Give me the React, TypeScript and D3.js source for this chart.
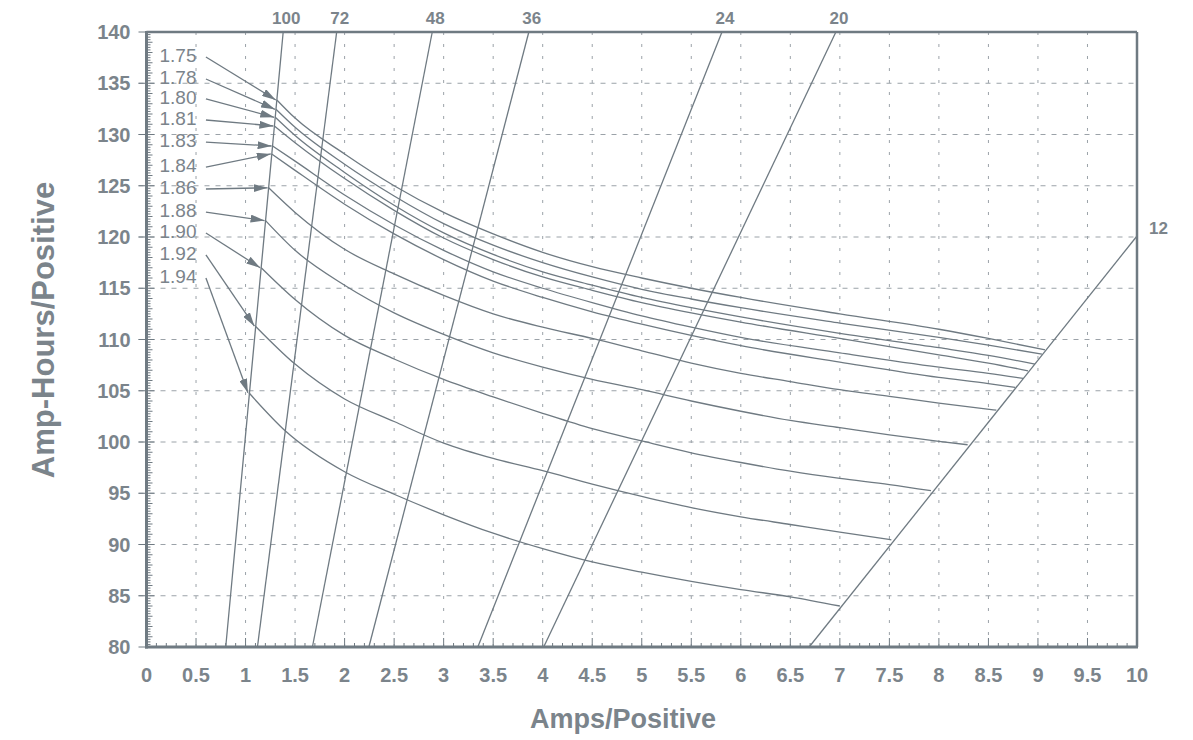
import React from 'react';
import * as d3 from 'd3';

const W = 1193;
const H = 740;

// axis ticks
const xTickValues = [0, 0.5, 1, 1.5, 2, 2.5, 3, 3.5, 4, 4.5, 5, 5.5, 6, 6.5, 7, 7.5, 8, 8.5, 9, 9.5, 10];
const xTickLabels = ['0', '0.5', '1', '1.5', '2', '2.5', '3', '3.5', '4', '4.5', '5', '5.5', '6', '6.5', '7', '7.5', '8', '8.5', '9', '9.5', '10'];
const yTickValues = [80, 85, 90, 95, 100, 105, 110, 115, 120, 125, 130, 135, 140];
const yTickLabels = ['80', '85', '90', '95', '100', '105', '110', '115', '120', '125', '130', '135', '140'];

// hour-rate lines [amps, amp-hours]
const rateNames = ['100', '72', '48', '36', '24', '20', '12'];
const rate100 = [[0.80, 80], [1.38, 140]];
const rate72 = [[1.12, 80], [1.92, 140]];
const rate48 = [[1.675, 80], [2.885, 140]];
const rate36 = [[2.245, 80], [3.86, 140]];
const rate24 = [[3.345, 80], [5.81, 140]];
const rate20 = [[4.01, 80], [6.96, 140]];
const rate12 = [[6.69, 80], [10, 120.1]];
const rateLines = [rate100, rate72, rate48, rate36, rate24, rate20, rate12];

// final-voltage curves [amps, amp-hours]
const voltNames = ['1.75', '1.78', '1.80', '1.81', '1.83', '1.84', '1.86', '1.88', '1.90', '1.92', '1.94'];
const v175 = [[1.316, 133.37], [1.5, 131.6], [2.0, 128.1], [2.5, 125.0], [3.0, 122.4], [3.5, 120.3], [4.0, 118.5], [4.5, 117.1], [5.0, 116.0], [5.5, 115.0], [6.0, 114.1], [7.0, 112.5], [8.0, 111.0], [8.5, 110.1], [9.07, 109.0]];
const v178 = [[1.307, 132.46], [1.5, 130.7], [2.0, 127.1], [2.5, 124.0], [3.0, 121.3], [3.5, 119.2], [4.0, 117.5], [4.5, 116.1], [5.0, 114.9], [5.5, 113.95], [6.0, 113.1], [7.0, 111.6], [8.0, 110.2], [8.5, 109.45], [9.04, 108.58]];
const v180 = [[1.30, 131.68], [1.5, 129.9], [2.0, 126.3], [2.5, 123.1], [3.0, 120.4], [3.5, 118.3], [4.0, 116.6], [4.5, 115.3], [5.0, 114.1], [5.5, 113.1], [6.0, 112.2], [7.0, 110.6], [8.0, 109.2], [8.5, 108.45], [8.97, 107.6]];
const v181 = [[1.291, 130.83], [1.5, 129.2], [2.0, 125.7], [2.5, 122.6], [3.0, 119.9], [3.5, 117.8], [4.0, 116.1], [4.5, 114.8], [5.0, 113.6], [5.5, 112.6], [6.0, 111.7], [7.0, 110.1], [8.0, 108.5], [8.5, 107.7], [8.90, 106.95]];
const v183 = [[1.273, 128.88], [1.5, 127.4], [2.0, 124.1], [2.5, 121.2], [3.0, 118.7], [3.5, 116.6], [4.0, 115.0], [4.5, 113.6], [5.0, 112.3], [5.5, 111.2], [6.0, 110.2], [7.0, 108.7], [8.0, 107.3], [8.5, 106.7], [8.85, 106.2]];
const v184 = [[1.265, 128.1], [1.5, 126.5], [2.0, 123.2], [2.5, 120.3], [3.0, 117.8], [3.5, 115.7], [4.0, 114.1], [4.5, 112.7], [5.0, 111.5], [5.5, 110.4], [6.0, 109.4], [7.0, 107.8], [8.0, 106.3], [8.5, 105.7], [8.77, 105.33]];
const v186 = [[1.233, 124.8], [1.5, 122.4], [2.0, 118.8], [2.5, 116.4], [3.0, 114.3], [3.5, 112.5], [4.0, 111.2], [4.5, 110.1], [5.0, 108.9], [5.5, 107.7], [6.0, 106.7], [6.5, 105.9], [7.0, 105.1], [7.5, 104.45], [8.0, 103.8], [8.58, 103.1]];
const v188 = [[1.202, 121.6], [1.5, 118.7], [2.0, 115.3], [2.5, 112.6], [3.0, 110.5], [3.5, 108.7], [4.0, 107.3], [4.5, 106.1], [5.0, 105.1], [5.5, 104.0], [6.0, 103.0], [6.5, 102.1], [7.0, 101.4], [7.5, 100.7], [8.0, 100.06], [8.29, 99.73]];
const v190 = [[1.158, 117.0], [1.5, 113.9], [2.0, 110.4], [2.5, 108.1], [3.0, 106.1], [3.5, 104.4], [4.0, 102.8], [4.5, 101.3], [5.0, 100.1], [5.5, 98.95], [6.0, 98.0], [6.5, 97.15], [7.0, 96.45], [7.5, 95.85], [7.92, 95.25]];
const v192 = [[1.10, 111.3], [1.5, 107.6], [2.0, 104.2], [2.5, 102.0], [3.0, 99.9], [3.5, 98.4], [4.0, 97.2], [4.5, 95.9], [5.0, 94.7], [5.5, 93.6], [6.0, 92.7], [6.5, 91.95], [7.0, 91.2], [7.52, 90.46]];
const v194 = [[1.034, 104.8], [1.4, 101.1], [2.0, 97.1], [2.5, 94.9], [3.0, 92.9], [3.5, 91.1], [4.0, 89.6], [4.5, 88.3], [5.0, 87.3], [5.5, 86.4], [6.0, 85.6], [6.5, 84.9], [7.0, 84.0]];
const voltCurves = [v175, v178, v180, v181, v183, v184, v186, v188, v190, v192, v194];

// label anchors (data units) for the voltage labels
const voltLabelX = 0.318;
const voltLabelY = [137.76, 135.61, 133.66, 131.61, 129.46, 127.02, 124.88, 122.63, 120.59, 118.44, 116.2];
const arrowStartX = 0.6;

const INK = '#6f7a82';
const TEXT = '#7b848b';
const GRID = '#9ba2a8';
const FONT = '"Liberation Sans", Arial, Helvetica, sans-serif';

export default function App() {
  const x = d3.scaleLinear().domain([0, 10]).range([146.5, 1137]);
  const y = d3.scaleLinear().domain([80, 140]).range([647, 32]);
  const [x0, x1] = x.range();
  const [y0, y1] = y.range();

  const curveGen = d3.line<number[]>().x(d => x(d[0])).y(d => y(d[1])).curve(d3.curveMonotoneX);
  const straightGen = d3.line<number[]>().x(d => x(d[0])).y(d => y(d[1]));

  const xMinor = d3.range(0, 10.001, 0.1).map(v => +v.toFixed(1));
  const yMinor = d3.range(80, 140.001, 0.25);

  return (
    <svg width={W} height={H} style={{ position: 'absolute', left: 0, top: 0, background: '#fff' }} fontFamily={FONT}>
      <defs>
        <marker id="arr" viewBox="0 0 14 8" refX="14" refY="4" markerWidth="14" markerHeight="8" markerUnits="userSpaceOnUse" orient="auto">
          <path d="M0,0 L14,4 L0,8 Z" fill={INK} />
        </marker>
      </defs>

      {/* grid */}
      <g stroke={GRID} strokeWidth={1} fill="none">
        {xTickValues.filter(v => v > 0 && v < 10).map(v => (
          <line key={'gx' + v} x1={x(v)} x2={x(v)} y1={y0} y2={y1} strokeDasharray="3,9" />
        ))}
        {yTickValues.filter(v => v > 80 && v < 140).map(v => (
          <line key={'gy' + v} x1={x0 - 8} x2={x1} y1={y(v)} y2={y(v)} strokeDasharray="5,6" />
        ))}
      </g>

      {/* minor ticks */}
      <g stroke={INK} strokeWidth={1}>
        {xMinor.map(v => {
          const major = Math.abs(v * 2 - Math.round(v * 2)) < 1e-6;
          return <line key={'tx' + v} x1={x(v)} x2={x(v)} y1={y0} y2={y0 - (major ? 9 : 4)} />;
        })}
        {yMinor.map(v => {
          const major = v % 5 === 0;
          const half = v % 1 === 0;
          return <line key={'ty' + v} x1={major ? x0 - 8 : x0} x2={x0 + (major ? 8 : half ? 6 : 4)} y1={y(v)} y2={y(v)} />;
        })}
      </g>

      {/* frame */}
      <g stroke={INK} fill="none">
        <line x1={x0} x2={x1} y1={y1} y2={y1} strokeWidth={2.5} />
        <line x1={x1} x2={x1} y1={y1} y2={y0} strokeWidth={2.5} />
        <line x1={x0} x2={x0} y1={y1 - 1} y2={y0 + 1.5} strokeWidth={3} />
        <line x1={x0 - 1.5} x2={x1 + 1} y1={y0} y2={y0} strokeWidth={3} />
      </g>

      {/* hour-rate lines */}
      <g stroke={INK} strokeWidth={1.3} fill="none">
        {rateLines.map((pts, i) => (
          <path key={'r' + i} d={straightGen(pts) || ''} />
        ))}
      </g>
      <g fill={TEXT} fontWeight="bold" fontSize={17}>
        {rateLines.map((pts, i) => {
          const top = pts[pts.length - 1];
          if (rateNames[i] === '12') {
            return <text key={'rl' + i} x={x(top[0]) + 12} y={y(top[1]) - 2} textAnchor="start">{rateNames[i]}</text>;
          }
          return <text key={'rl' + i} x={x(top[0]) + 3} y={y(top[1]) - 8} textAnchor="middle">{rateNames[i]}</text>;
        })}
      </g>

      {/* voltage curves */}
      <g stroke={INK} strokeWidth={1.3} fill="none">
        {voltCurves.map((pts, i) => (
          <path key={'v' + i} d={curveGen(pts) || ''} />
        ))}
      </g>

      {/* voltage labels and arrows */}
      <g>
        {voltCurves.map((pts, i) => (
          <line key={'a' + i} x1={x(arrowStartX)} y1={y(voltLabelY[i]) + 2} x2={x(pts[0][0]) - 1} y2={y(pts[0][1])}
            stroke={INK} strokeWidth={1.3} markerEnd="url(#arr)" />
        ))}
        {voltNames.map((n, i) => (
          <text key={'vl' + i} x={x(voltLabelX)} y={y(voltLabelY[i]) + 7} textAnchor="middle" fontSize={19} fill={TEXT}>{n}</text>
        ))}
      </g>

      {/* tick labels */}
      <g fill={TEXT} fontWeight="bold" fontSize={20}>
        {xTickValues.map((v, i) => (
          <text key={'xl' + v} x={x(v)} y={y0 + 35} textAnchor="middle">{xTickLabels[i]}</text>
        ))}
        {yTickValues.map((v, i) => (
          <text key={'yl' + v} x={x0 - 16} y={y(v) + 7} textAnchor="end">{yTickLabels[i]}</text>
        ))}
      </g>

      {/* axis titles */}
      <text x={623} y={728} textAnchor="middle" fontWeight="bold" fontSize={27} fill={TEXT}>Amps/Positive</text>
      <text transform={`translate(54,330) rotate(-90)`} textAnchor="middle" fontWeight="bold" fontSize={31} fill={TEXT}>Amp-Hours/Positive</text>
    </svg>
  );
}
